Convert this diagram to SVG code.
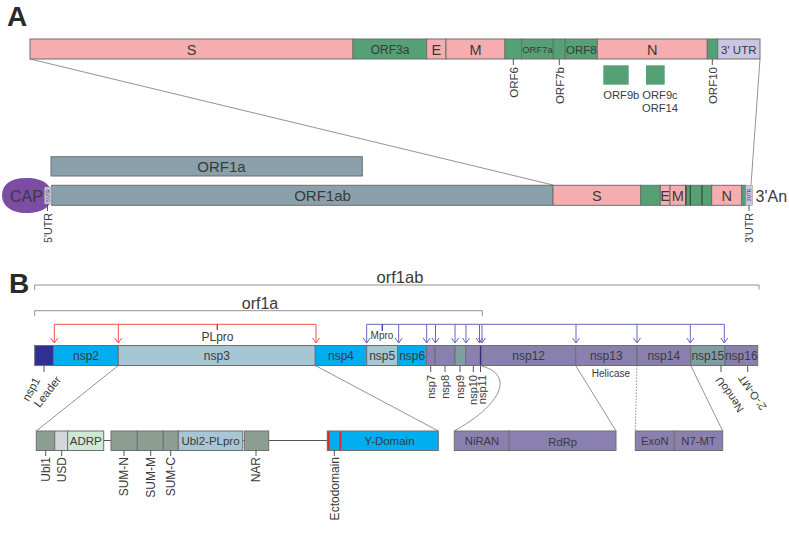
<svg xmlns="http://www.w3.org/2000/svg" width="789" height="551" viewBox="0 0 789 551">
<defs>
<style>
text{font-family:"Liberation Sans",Arial,sans-serif;fill:#3a3a3a}
.bx{stroke:#6f6f6f;stroke-width:1}
.pk{fill:#f5adaf}
.gr{fill:#55a075}
.lv{fill:#c9c6e4}
.sl{fill:#8aa0ab}
.db{fill:#2e3192}
.bb{fill:#00aeef}
.lb{fill:#a6c6d4}
.pu{fill:#8a80b0}
.tg{fill:#7e9ea3}
.gg{fill:#8c9e92}
.mint{fill:#cde9d6}
.lg{fill:#d4d5d8}
.thin{stroke:#777;stroke-width:0.8;fill:none}
.tk{stroke:#555;stroke-width:1;fill:none}
.red{stroke:#f05050;stroke-width:1;fill:none}
.blu{stroke:#6464c8;stroke-width:1;fill:none}
.c{text-anchor:middle}
.e{text-anchor:end}
.big{font-size:28px;font-weight:bold;fill:#2a2a2a}
</style>
<marker id="ra" markerUnits="userSpaceOnUse" orient="auto" refX="0" refY="0" overflow="visible"><path d="M-5,-3.5 L0,0 L-5,3.5" fill="none" stroke="#f05050" stroke-width="1"/></marker>
<marker id="ba" markerUnits="userSpaceOnUse" orient="auto" refX="0" refY="0" overflow="visible"><path d="M-5,-3.5 L0,0 L-5,3.5" fill="none" stroke="#6464c8" stroke-width="1"/></marker>
</defs>
<rect width="789" height="551" fill="#fff"/>

<text class="big" x="7" y="26">A</text>
<text class="big" x="9" y="293">B</text>

<!-- connectors -->
<g id="connectors">
<line class="thin" x1="30" y1="59" x2="553" y2="185"/>
<line class="thin" x1="760" y1="59" x2="751" y2="185"/>
<line class="thin" x1="118.3" y1="365.5" x2="36.3" y2="431"/>
<line class="thin" x1="315.3" y1="365.5" x2="438.3" y2="431"/>
<path class="thin" d="M481.7,366 C512,374 506,402 454.3,431"/>
<line class="thin" x1="575.7" y1="365.5" x2="616" y2="431"/>
<line class="thin" x1="637" y1="365.5" x2="635.3" y2="431" stroke-dasharray="1.5,1.5"/>
<line class="thin" x1="690.7" y1="365.5" x2="722.7" y2="431"/>
<!-- PLpro -->
<path class="red" d="M54.3,324.3 H316"/>
<line class="red" x1="54.3" y1="324.3" x2="54.3" y2="343" marker-end="url(#ra)"/>
<line class="red" x1="118.3" y1="324.3" x2="118.3" y2="343" marker-end="url(#ra)"/>
<line class="red" x1="316" y1="324.3" x2="316" y2="343" marker-end="url(#ra)"/>
<line x1="217.3" y1="324.3" x2="217.3" y2="330" stroke="#c0282d" stroke-width="1.3"/>
<!-- Mpro -->
<path class="blu" d="M366.7,324.3 H724.3"/>
<line x1="382.3" y1="324.3" x2="382.3" y2="331" stroke="#3a3a9a" stroke-width="1.3"/>
<g class="blu">
<line x1="366.7" y1="324.3" x2="366.7" y2="343" marker-end="url(#ba)"/>
<line x1="398.7" y1="324.3" x2="398.7" y2="343" marker-end="url(#ba)"/>
<line x1="426.7" y1="324.3" x2="426.7" y2="343" marker-end="url(#ba)"/>
<line x1="435.5" y1="324.3" x2="435.5" y2="343" marker-end="url(#ba)"/>
<line x1="455" y1="324.3" x2="455" y2="343" marker-end="url(#ba)"/>
<line x1="466" y1="324.3" x2="466" y2="343" marker-end="url(#ba)"/>
<line x1="479.5" y1="324.3" x2="479.5" y2="343" marker-end="url(#ba)"/>
<line x1="482" y1="324.3" x2="482" y2="343" marker-end="url(#ba)"/>
<line x1="576" y1="324.3" x2="576" y2="343" marker-end="url(#ba)"/>
<line x1="637" y1="324.3" x2="637" y2="343" marker-end="url(#ba)"/>
<line x1="690.3" y1="324.3" x2="690.3" y2="343" marker-end="url(#ba)"/>
<line x1="724.3" y1="324.3" x2="724.3" y2="343" marker-end="url(#ba)"/>
</g>
<!-- brackets -->
<path class="thin" d="M34.7,290 V285 H759 V289.5" stroke="#888" stroke-width="1"/>
<path class="thin" d="M34.7,316 V310.7 H482.3 V316" stroke="#888" stroke-width="1"/>
<!-- lower connecting lines -->
<line class="tk" x1="103.7" y1="440.5" x2="111" y2="440.5"/>
<line class="tk" x1="242.7" y1="440.5" x2="244.3" y2="440.5"/>
<line class="tk" x1="268.7" y1="440.5" x2="327.3" y2="440.5"/>
</g>

<!-- Section A top genome -->
<g id="genome-top">
<rect class="bx pk" x="30" y="39" width="323" height="20"/>
<rect class="bx gr" x="353" y="39" width="73.7" height="20"/>
<rect class="bx pk" x="426.7" y="39" width="19.3" height="20"/>
<rect class="bx pk" x="446" y="39" width="59" height="20"/>
<rect class="bx gr" x="505" y="39" width="16.7" height="20"/>
<rect class="bx gr" x="521.7" y="39" width="31.6" height="20"/>
<rect class="bx gr" x="553.3" y="39" width="12" height="20"/>
<rect class="bx gr" x="565.3" y="39" width="32" height="20"/>
<rect class="bx pk" x="597.3" y="39" width="110" height="20"/>
<rect class="bx gr" x="707.3" y="39" width="10.4" height="20"/>
<rect class="bx lv" x="717.7" y="39" width="42.3" height="20"/>
<text class="c" x="191.5" y="54.5" font-size="14.5">S</text>
<text class="c" x="390" y="53.5" font-size="12">ORF3a</text>
<text class="c" x="436.3" y="54.5" font-size="14.5">E</text>
<text class="c" x="475.5" y="54.5" font-size="14.5">M</text>
<text class="c" x="537.5" y="52.5" font-size="9.5">ORF7a</text>
<text class="c" x="581.3" y="53.5" font-size="11.5">ORF8</text>
<text class="c" x="652.3" y="54.5" font-size="14.5">N</text>
<text class="c" x="738.8" y="53.5" font-size="11.5">3' UTR</text>
<line class="tk" x1="513.3" y1="59" x2="513.3" y2="65"/>
<line class="tk" x1="559.3" y1="59" x2="559.3" y2="65"/>
<line class="tk" x1="712.3" y1="59" x2="712.3" y2="65"/>
<text class="e" font-size="11.5" transform="translate(517.5,67) rotate(-90)">ORF6</text>
<text class="e" font-size="11.5" transform="translate(563.5,67) rotate(-90)">ORF7b</text>
<text class="e" font-size="11.5" transform="translate(716.5,67) rotate(-90)">ORF10</text>
</g>
<g id="orf9b">
<rect class="gr" x="603.3" y="65.3" width="25.4" height="19.4"/>
<text class="c" x="621.3" y="99" font-size="11.2">ORF9b</text>
</g>
<g id="orf9c">
<rect class="gr" x="646" y="65.3" width="18.7" height="19.4"/>
<text class="c" x="660" y="99" font-size="11.2">ORF9c</text>
<text class="c" x="660" y="111.5" font-size="11.2">ORF14</text>
</g>

<!-- Section A genome -->
<g id="orf1a">
<rect class="bx sl" x="51" y="156.7" width="311.3" height="19.3"/>
<text class="c" x="221.5" y="171.5" font-size="15">ORF1a</text>
</g>
<g id="genome">
<path d="M26,178 C45,178 52,186 51,195.5 C52,206 44,213 26,213 C10,213 2,205 2,195.5 C2,185 10,178 26,178 Z" fill="#7b4ea3"/>
<text x="10" y="201.5" font-size="16" fill="#2d2d2d">CAP</text>
<rect class="bx sl" x="51.7" y="185.3" width="501.3" height="20"/>
<text class="c" x="322.5" y="200.5" font-size="15">ORF1ab</text>
<rect x="44.3" y="187" width="7.4" height="17" class="lv" stroke="#888" stroke-width="0.5"/>
<text class="c" font-size="4.5" transform="translate(49.5,195.5) rotate(-90)">5'UTR</text>
<rect class="bx pk" x="553" y="185.3" width="87.7" height="20"/>
<rect class="bx gr" x="640.7" y="185.3" width="19.6" height="20"/>
<rect class="bx pk" x="660.3" y="185.3" width="9.7" height="20"/>
<rect class="bx pk" x="670" y="185.3" width="15.7" height="20"/>
<rect class="bx gr" x="685.7" y="185.3" width="26" height="20"/>
<g stroke="#2f4a3a" stroke-width="1.2">
<line x1="686" y1="185.3" x2="686" y2="205.3"/>
<line x1="690.3" y1="185.3" x2="690.3" y2="205.3"/>
<line x1="702" y1="185.3" x2="702" y2="205.3"/>
<line x1="711.7" y1="185.3" x2="711.7" y2="205.3"/>
</g>
<rect class="bx pk" x="711.7" y="185.3" width="30" height="20"/>
<rect class="bx gr" x="741.7" y="185.3" width="4" height="20"/>
<rect x="745.7" y="185.3" width="6.6" height="20" class="lv" stroke="#888" stroke-width="0.5"/>
<text class="c" font-size="4.5" transform="translate(750.5,195.3) rotate(-90)">3'UTR</text>
<text class="c" x="596.8" y="201" font-size="14.5">S</text>
<text class="c" x="665.2" y="201" font-size="14.5">E</text>
<text class="c" x="677.8" y="201" font-size="14.5">M</text>
<text class="c" x="726.7" y="201" font-size="14.5">N</text>
<text x="755.5" y="201.5" font-size="16" fill="#2d2d2d">3'An</text>
<line class="tk" x1="47.5" y1="205" x2="47.5" y2="211"/>
<line class="tk" x1="749" y1="205" x2="749" y2="211"/>
<text class="e" font-size="10.7" transform="translate(51.5,213) rotate(-90)">5'UTR</text>
<text class="e" font-size="10.7" transform="translate(753,213) rotate(-90)">3'UTR</text>
</g>

<!-- Section B -->
<g id="labels-b">
<text class="c" x="400" y="283" font-size="16.5">orf1ab</text>
<text class="c" x="260" y="308.5" font-size="16">orf1a</text>
<text class="c" x="217.5" y="341" font-size="12">PLpro</text>
<text class="c" x="382" y="339" font-size="10">Mpro</text>
</g>
<g id="polyprotein">
<rect class="bx db" x="34.7" y="345.5" width="19" height="20"/>
<rect class="bx bb" x="53.7" y="345.5" width="64.6" height="20"/>
<rect class="bx lb" x="118.3" y="345.5" width="197" height="20"/>
<rect class="bx bb" x="315.3" y="345.5" width="51.4" height="20"/>
<rect class="bx lb" x="366.7" y="345.5" width="31" height="20"/>
<rect class="bx bb" x="397.7" y="345.5" width="29" height="20"/>
<rect class="bx pu" x="426.7" y="345.5" width="8.3" height="20"/>
<rect class="bx pu" x="435" y="345.5" width="20" height="20"/>
<rect class="bx tg" x="455" y="345.5" width="10.7" height="20"/>
<rect class="bx pu" x="465.7" y="345.5" width="14.3" height="20"/>
<rect x="480" y="345.5" width="1.7" height="20" fill="#2e2f7a"/>
<rect class="bx pu" x="481.7" y="345.5" width="94" height="20"/>
<rect class="bx pu" x="575.7" y="345.5" width="61.3" height="20"/>
<rect class="bx pu" x="637" y="345.5" width="53.7" height="20"/>
<rect class="bx tg" x="690.7" y="345.5" width="34.3" height="20"/>
<rect class="bx pu" x="725" y="345.5" width="32.7" height="20"/>
<g font-size="12" class="c">
<text class="c" x="86" y="360">nsp2</text>
<text class="c" x="216.8" y="360">nsp3</text>
<text class="c" x="341" y="360">nsp4</text>
<text class="c" x="382.2" y="360">nsp5</text>
<text class="c" x="412.2" y="360">nsp6</text>
<text class="c" x="528.7" y="360">nsp12</text>
<text class="c" x="606.3" y="360">nsp13</text>
<text class="c" x="663.8" y="360">nsp14</text>
<text class="c" x="707.8" y="360">nsp15</text>
<text class="c" x="741.3" y="360">nsp16</text>
</g>
<text class="c" x="611" y="376.5" font-size="10">Helicase</text>
<g class="tk">
<line x1="44" y1="365.5" x2="44" y2="372"/>
<line x1="430.7" y1="365.5" x2="430.7" y2="372"/>
<line x1="445" y1="365.5" x2="445" y2="372"/>
<line x1="460" y1="365.5" x2="460" y2="372"/>
<line x1="473.3" y1="365.5" x2="473.3" y2="372"/>
<line x1="480.5" y1="365.5" x2="480.5" y2="372"/>
<line x1="721" y1="365.5" x2="721" y2="372"/>
<line x1="747.7" y1="365.5" x2="747.7" y2="372"/>
</g>
<g font-size="11">
<text class="e" transform="translate(434.5,375) rotate(-90)">nsp7</text>
<text class="e" transform="translate(449,375) rotate(-90)">nsp8</text>
<text class="e" transform="translate(464,375) rotate(-90)">nsp9</text>
<text class="e" transform="translate(477,375) rotate(-90)">nsp10</text>
<text class="e" transform="translate(485.5,375) rotate(-90)">nsp11</text>
</g>
<text class="e" font-size="11.5" transform="translate(40.5,380) rotate(-62)">nsp1</text>
<text class="e" font-size="11.5" transform="translate(61.5,380) rotate(-52)">Leader</text>
<text class="e" font-size="11" transform="translate(721,376) rotate(-125)">NendoU</text>
<text class="e" font-size="11" transform="translate(744,374) rotate(-125)">2'-O-MT</text>
</g>

<g id="nsp3-domains">
<rect class="bx gg" x="36.3" y="431" width="18.4" height="19.5"/>
<rect class="bx lg" x="54.7" y="431" width="13" height="19.5"/>
<rect class="bx mint" x="67.7" y="431" width="36" height="19.5"/>
<text class="c" x="85.7" y="445" font-size="11.5">ADRP</text>
<rect class="bx gg" x="111" y="431" width="26.3" height="19.5"/>
<rect class="bx gg" x="137.3" y="431" width="26" height="19.5"/>
<rect class="bx gg" x="163.3" y="431" width="15" height="19.5"/>
<rect class="bx lb" x="178.3" y="431" width="64.4" height="19.5"/>
<text class="c" x="210.5" y="445" font-size="11.5">Ubl2-PLpro</text>
<rect class="bx gg" x="244.3" y="431" width="24.4" height="19.5"/>
<rect class="bx bb" x="327.3" y="431" width="111" height="19.5"/>
<rect x="327.5" y="431.5" width="2" height="18.5" fill="#e8262b"/>
<rect x="339.3" y="431.5" width="2" height="18.5" fill="#e8262b"/>
<text class="c" x="389.5" y="445" font-size="11.5">Y-Domain</text>
<g class="tk">
<line x1="45.7" y1="450.5" x2="45.7" y2="456"/>
<line x1="61.7" y1="450.5" x2="61.7" y2="456"/>
<line x1="124" y1="450.5" x2="124" y2="456"/>
<line x1="150.7" y1="450.5" x2="150.7" y2="456"/>
<line x1="170.7" y1="450.5" x2="170.7" y2="456"/>
<line x1="256" y1="450.5" x2="256" y2="456"/>
<line x1="334.3" y1="450.5" x2="334.3" y2="456"/>
</g>
<g font-size="12">
<text class="e" transform="translate(50,457) rotate(-90)">Ubl1</text>
<text class="e" transform="translate(66,457) rotate(-90)">USD</text>
<text class="e" transform="translate(128.3,457) rotate(-90)">SUM-N</text>
<text class="e" transform="translate(155,457) rotate(-90)">SUM-M</text>
<text class="e" transform="translate(175,457) rotate(-90)">SUM-C</text>
<text class="e" transform="translate(260.3,457) rotate(-90)">NAR</text>
<text class="e" transform="translate(338.6,457) rotate(-90)">Ectodomain</text>
</g>
</g>

<g id="nsp12-domains">
<rect class="bx pu" x="454.3" y="431" width="55" height="19.5"/>
<rect class="bx pu" x="509.3" y="431" width="106.7" height="19.5"/>
<text class="c" x="482" y="445" font-size="11.3">NiRAN</text>
<text class="c" x="562.7" y="446" font-size="11.3">RdRp</text>
</g>
<g id="nsp14-domains">
<rect class="bx pu" x="635.3" y="431" width="39" height="19.5"/>
<rect class="bx pu" x="674.3" y="431" width="48.4" height="19.5"/>
<text class="c" x="654.8" y="445" font-size="11.3">ExoN</text>
<text class="c" x="698.5" y="445" font-size="11.3">N7-MT</text>
</g>
</svg>
